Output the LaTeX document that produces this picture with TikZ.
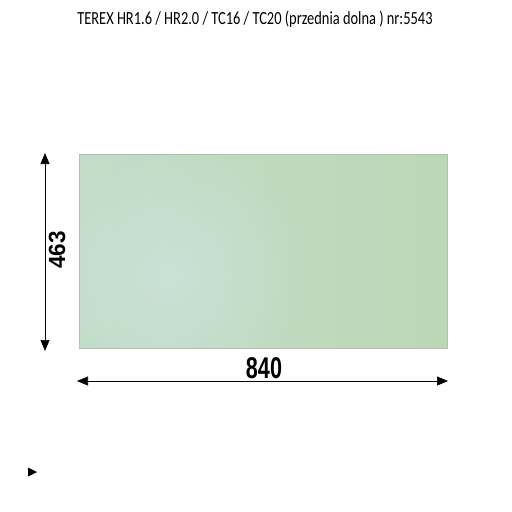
\documentclass[tikz,border=0pt]{standalone}
\usepackage{fontspec}
\setmainfont{Carlito}
\newfontfamily\dimfont{Liberation Sans}
\usetikzlibrary{arrows.meta,fadings}
\tikzfading[name=softglow, inner color=transparent!0, outer color=transparent!100]
\definecolor{glassL}{RGB}{194,220,200}
\definecolor{glassR}{RGB}{188,215,182}
\definecolor{glassC}{RGB}{202,225,214}
\definecolor{glassB}{RGB}{175,195,175}
\tikzset{
  dimline/.style={line width=0.6pt,{Triangle[length=11pt,width=9pt]}-{Triangle[length=11pt,width=9pt]}},
  dimtext/.style={inner sep=0pt,font=\dimfont\bfseries\fontsize{30}{30}\selectfont},
}
\begin{document}
\begin{tikzpicture}[x=1pt,y=-1pt]
\useasboundingbox (0,0) rectangle (512,512);
\fill[white] (0,0) rectangle (512,512);
\node[inner sep=0pt,anchor=base] (title) at (255,24) {\scalebox{0.78}[1]{\fontsize{18.5}{18.5}\selectfont TEREX HR1.6 / HR2.0 / TC16 / TC20 (przednia dolna ) nr:5543}};
\node[minimum width=368pt,minimum height=194pt,inner sep=0pt,
  left color=glassL,right color=glassR] (glass) at (263,251) {};
\begin{scope}
\clip (glass.south west) rectangle (glass.north east);
\fill[glassC,path fading=softglow] (170,275) circle (140pt);
\end{scope}
\draw[glassB,line width=0.5pt] (glass.south west) rectangle (glass.north east);
\coordinate (vt) at (45,153);
\coordinate (vb) at (45,351);
\draw[dimline] (vt) -- (vb);
\node[dimtext,rotate=90] (h) at (57,250) {\scalebox{0.75}[0.78]{463}};
\coordinate (hl) at (77,381);
\coordinate (hr) at (448,381);
\draw[dimline] (hl) -- (hr);
\node[dimtext,anchor=base] (w) at (264,378.5) {\scalebox{0.72}[1]{840}};
\fill (28,467.5) -- (37,472) -- (28,476.5) -- cycle;
\end{tikzpicture}
\end{document}
